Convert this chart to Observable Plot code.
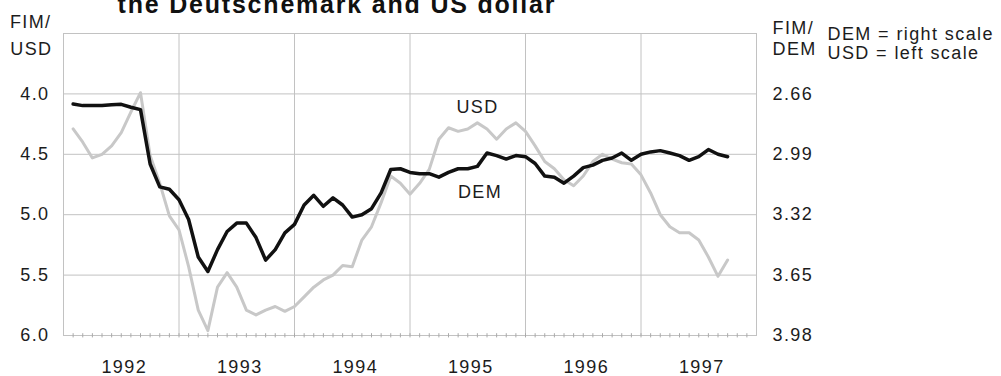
<!DOCTYPE html>
<html><head><meta charset="utf-8">
<script src="https://cdn.jsdelivr.net/npm/d3@7"></script>
<script src="https://cdn.jsdelivr.net/npm/@observablehq/plot@0.6"></script>
<style>body{margin:0;background:#fff;} #chart svg{font-family:"Liberation Sans",Arial,sans-serif;}</style>
</head><body><div id="chart"></div>
<script>
// Monthly observations, Jan 1992 – Sep 1997
const startYear = 1992;
const usdValues = [4.29,4.40,4.53,4.50,4.43,4.32,4.15,3.99,4.51,4.74,5.01,5.125,
  5.43,5.79,5.96,5.60,5.48,5.60,5.79,5.83,5.79,5.76,5.80,5.76,
  5.68,5.60,5.54,5.50,5.42,5.43,5.21,5.10,4.90,4.68,4.74,4.83,
  4.74,4.625,4.375,4.28,4.31,4.29,4.24,4.29,4.375,4.29,4.24,4.31,
  4.43,4.56,4.62,4.71,4.76,4.68,4.56,4.50,4.54,4.57,4.58,4.67,
  4.82,5.00,5.10,5.15,5.15,5.21,5.35,5.51,5.375];
const demValues = [2.715,2.724,2.724,2.724,2.719,2.717,2.733,2.746,3.043,3.168,3.181,3.238,
  3.346,3.551,3.630,3.511,3.412,3.366,3.366,3.445,3.568,3.511,3.419,3.373,
  3.267,3.214,3.274,3.228,3.267,3.333,3.320,3.287,3.201,3.073,3.069,3.089,
  3.096,3.096,3.115,3.089,3.069,3.069,3.056,2.983,2.997,3.016,2.997,3.003,
  3.040,3.109,3.115,3.148,3.109,3.063,3.049,3.023,3.010,2.983,3.023,2.990,
  2.977,2.970,2.983,2.997,3.023,3.003,2.964,2.990,3.003];
const years = [1992,1993,1994,1995,1996,1997];
const usdTicks = [4.0,4.5,5.0,5.5,6.0];
const demTicks = ["2.66","2.99","3.32","3.65","3.98"];
const leftAxisLabel = ["FIM/","USD"];
const rightAxisLabel = ["FIM/","DEM"];
const legendLines = ["DEM = right scale","USD = left scale"];
const seriesNames = ["USD","DEM"];
const title = "the Deutschemark and US dollar";

// right scale mapping: DEM value -> left (USD) scale position
const demBase = 2.66, demPerUsd = 0.66;
const toLeft = v => 4 + (v - demBase) / demPerUsd;

const usdData = usdValues.map((v,i)=>({t: startYear + (i+1)/12, v}));
const demData = demValues.map((v,i)=>({t: startYear + (i+1)/12, v}));
const monthTicks = d3.range(1, 72).map(k => startYear + k/12);

const ink = "#1c1c1c", grid = "#c2c2c2";
const chart = Plot.plot({
  width: 1001, height: 376,
  marginLeft: 63, marginRight: 245, marginTop: 33, marginBottom: 41,
  x: {domain: [1992, 1998]},
  y: {domain: [3.5, 6.0], reverse: true},
  marks: [
    Plot.gridY([3.5,4,4.5,5,5.5,6], {stroke: grid, strokeOpacity: 1}),
    Plot.gridX([1993,1994,1995,1996,1997], {stroke: grid, strokeOpacity: 1}),
    Plot.frame({stroke: grid}),
    Plot.ruleX(monthTicks, {y1: 5.985, y2: 6.02, stroke: "#aaa"}),
    Plot.axisY(usdTicks, {anchor: "left", tickSize: 0, tickPadding: 14, tickFormat: d => d.toFixed(1), label: null, fontSize: 18, fill: ink}),
    Plot.axisY(usdTicks, {anchor: "right", tickSize: 0, tickPadding: 16, tickFormat: d => demTicks[usdTicks.indexOf(d)], label: null, fontSize: 18, fill: ink}),
    Plot.axisX(years.map(y => y + 0.5), {tickSize: 0, tickPadding: 25, tickFormat: d => String(Math.floor(d)), label: null, fontSize: 18, fill: ink, dx: 3}),
    Plot.line(usdData, {x: "t", y: "v", stroke: "#c8c8c8", strokeWidth: 3}),
    Plot.line(demData, {x: "t", y: d => toLeft(d.v), stroke: "#111", strokeWidth: 3.5}),
    Plot.text([seriesNames[0]], {x: 1995.585, y: 4.11, text: d => d, fontSize: 18, fill: ink}),
    Plot.text([seriesNames[1]], {x: 1995.606, y: 4.81, text: d => d, fontSize: 18, fill: ink}),
    Plot.text([leftAxisLabel[0]], {frameAnchor: "top-left", dx: -12, dy: -11.5, textAnchor: "end", lineAnchor: "middle", text: d => d, fontSize: 18, fill: ink}),
    Plot.text([leftAxisLabel[1]], {frameAnchor: "top-left", dx: -11, dy: 15.5, textAnchor: "end", lineAnchor: "middle", text: d => d, fontSize: 18, fill: ink}),
    Plot.text([rightAxisLabel[0]], {frameAnchor: "top-right", dx: 16, dy: -5.5, textAnchor: "start", lineAnchor: "middle", text: d => d, fontSize: 18, fill: ink}),
    Plot.text([rightAxisLabel[1]], {frameAnchor: "top-right", dx: 16, dy: 16, textAnchor: "start", lineAnchor: "middle", text: d => d, fontSize: 18, fill: ink}),
    Plot.text([legendLines[0]], {frameAnchor: "top-right", dx: 71, dy: 1, textAnchor: "start", lineAnchor: "middle", text: d => d, fontSize: 18, fill: ink}),
    Plot.text([legendLines[1]], {frameAnchor: "top-right", dx: 71, dy: 19.5, textAnchor: "start", lineAnchor: "middle", text: d => d, fontSize: 18, fill: ink}),
    Plot.text([title], {frameAnchor: "top-left", dx: 54, dy: -20.5, textAnchor: "start", lineAnchor: "bottom", text: d => d, fontSize: 25, fontWeight: "bold", fill: "#111"})
  ]
});
chart.style.letterSpacing = "1.4px";
chart.style.overflow = "visible";
d3.select(chart).selectAll("text").filter(function(){ return this.textContent === title; }).style("letter-spacing", "1.8px");
document.getElementById("chart").appendChild(chart);
</script>
</body></html>
